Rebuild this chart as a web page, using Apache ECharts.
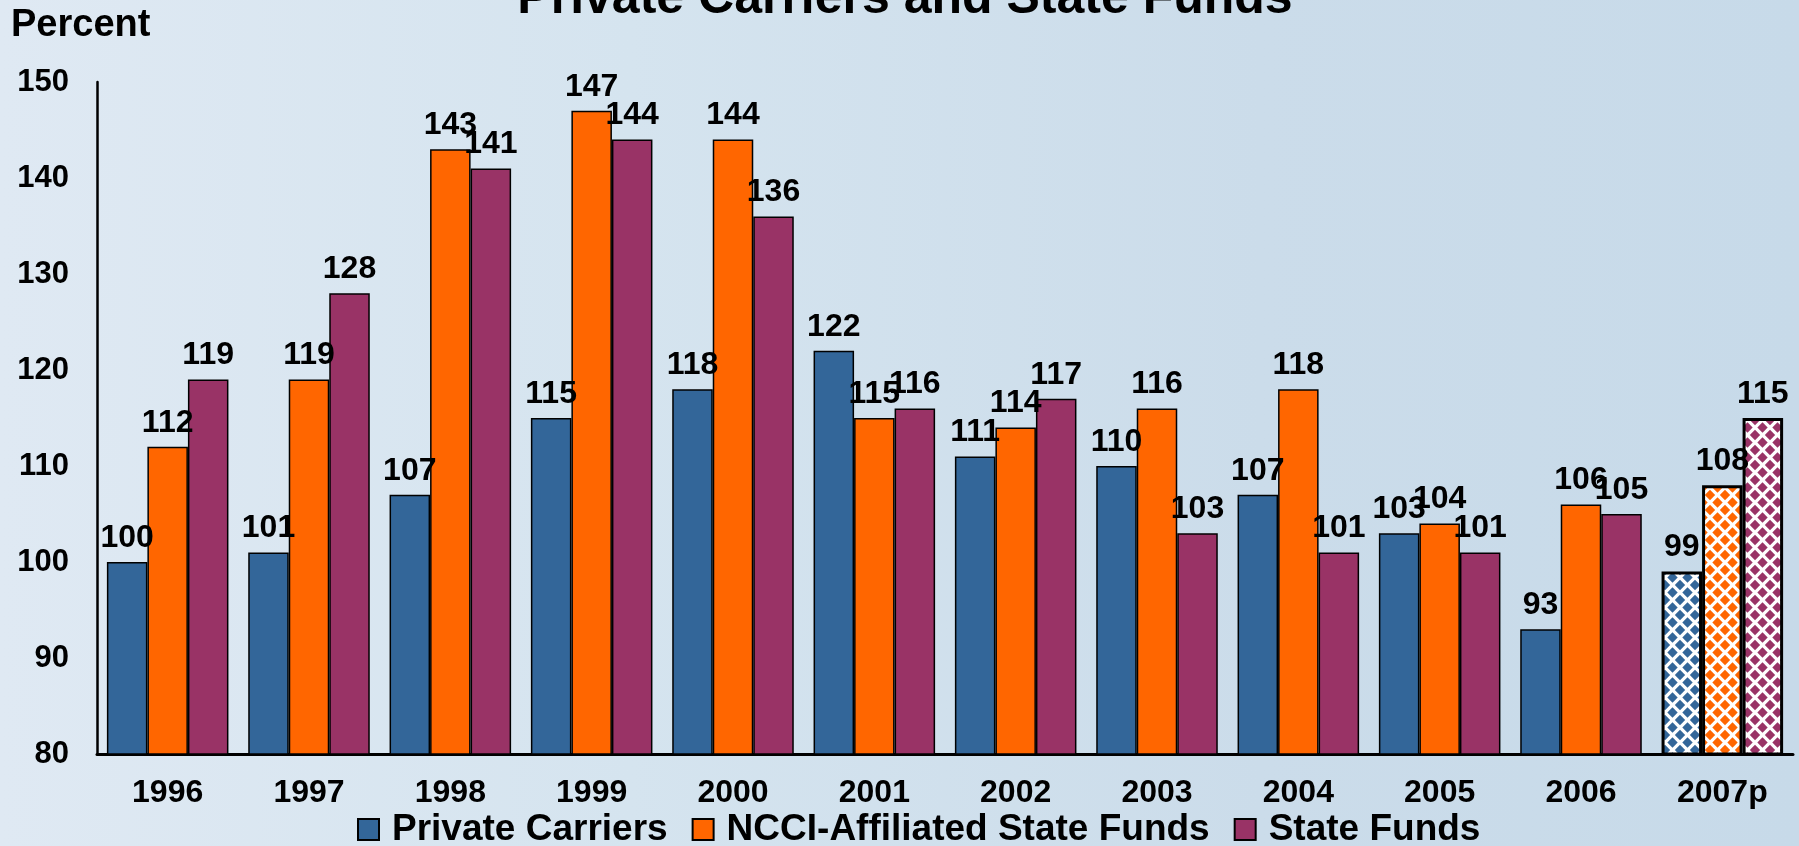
<!DOCTYPE html>
<html>
<head>
<meta charset="utf-8">
<title>Private Carriers and State Funds</title>
<script src="https://cdn.jsdelivr.net/npm/echarts@6/dist/echarts.min.js"></script>
<style>
  html, body { margin: 0; padding: 0; }
  #chart {
    width: 1799px; height: 846px;
    background: linear-gradient(90deg, #dfe9f3 0%, #d5e4ef 35%, #cbdcea 70%, #c7dae9 100%);
  }
</style>
</head>
<body>
<div id="chart"></div>
<script>
// Combined ratio by year, in percent
const years = ['1996', '1997', '1998', '1999', '2000', '2001', '2002', '2003', '2004', '2005', '2006', '2007p'];
const privateCarriers = [100, 101, 107, 115, 118, 122, 111, 110, 107, 103, 93, 99];
const ncciStateFunds = [112, 119, 143, 147, 144, 115, 114, 116, 118, 104, 106, 108];
const stateFunds = [119, 128, 141, 144, 136, 116, 117, 103, 101, 101, 105, 115];
const yTicks = { min: 80, max: 150, step: 10 };
const seriesNames = ['Private Carriers', 'NCCI-Affiliated State Funds', 'State Funds'];
const projectedYear = '2007p';

const colors = ['#336699', '#ff6600', '#993366'];
const FONT = '"Liberation Sans", Arial, sans-serif';

// Diamond dot fill used for the projected year
function diamondPattern(color) {
  const c = document.createElement('canvas');
  const s = 15;
  c.width = s; c.height = s;
  const g = c.getContext('2d');
  g.fillStyle = '#ffffff';
  g.fillRect(0, 0, s, s);
  g.fillStyle = color;
  const d = 5.2;
  const centers = [[s / 2, s / 2], [0, 0], [s, 0], [0, s], [s, s]];
  centers.forEach(([cx, cy]) => {
    g.beginPath();
    g.moveTo(cx, cy - d);
    g.lineTo(cx + d, cy);
    g.lineTo(cx, cy + d);
    g.lineTo(cx - d, cy);
    g.closePath();
    g.fill();
  });
  return { image: c, repeat: 'repeat' };
}

function buildData(values, color) {
  return values.map((v, i) => {
    if (years[i] === projectedYear) {
      return {
        value: v,
        itemStyle: { color: diamondPattern(color), borderColor: '#000', borderWidth: 3 }
      };
    }
    return v;
  });
}

const seriesValues = [privateCarriers, ncciStateFunds, stateFunds];

const chart = echarts.init(document.getElementById('chart'), null, { renderer: 'canvas' });

chart.setOption({
  backgroundColor: 'transparent',
  animation: false,
  textStyle: { fontFamily: FONT },
  graphic: [
    {
      type: 'text',
      z: 10,
      style: {
        text: 'Private Carriers and State Funds',
        x: 905, y: 24,
        textAlign: 'center',
        textVerticalAlign: 'bottom',
        font: 'bold 50px ' + FONT,
        fill: '#000'
      }
    },
    {
      type: 'text',
      style: {
        text: 'Percent',
        x: 11, y: 26,
        textAlign: 'left',
        textVerticalAlign: 'middle',
        font: 'bold 38px ' + FONT,
        fill: '#000'
      }
    }
  ],
  legend: {
    data: seriesNames,
    left: 352,
    top: 806,
    icon: 'rect',
    itemWidth: 21,
    itemHeight: 21,
    itemGap: 24,
    textStyle: { fontFamily: FONT, fontWeight: 'bold', fontSize: 37, color: '#000', padding: [0, 0, 0, 8] }
  },
  grid: { left: 97, right: 6, top: 82, bottom: 92, containLabel: false },
  xAxis: {
    type: 'category',
    data: years,
    axisLine: { lineStyle: { color: '#000', width: 3 } },
    axisTick: { show: false },
    axisLabel: { color: '#000', fontWeight: 'bold', fontSize: 32, margin: 23, fontFamily: FONT }
  },
  yAxis: {
    type: 'value',
    min: yTicks.min,
    max: yTicks.max,
    interval: yTicks.step,
    axisLine: { show: true, lineStyle: { color: '#000', width: 2.5 } },
    axisTick: { show: false },
    splitLine: { show: false },
    axisLabel: { color: '#000', fontWeight: 'bold', fontSize: 31, margin: 28, fontFamily: FONT, padding: [6, 0, 0, 0] }
  },
  series: seriesValues.map((vals, k) => ({
    name: seriesNames[k],
    type: 'bar',
    data: buildData(vals, colors[k]),
    barGap: '0%',
    barCategoryGap: '14%',
    itemStyle: { color: colors[k], borderColor: '#000', borderWidth: 1.5 },
    label: {
      show: true,
      position: 'top',
      distance: 8,
      color: '#000',
      fontWeight: 'bold',
      fontSize: 32,
      fontFamily: FONT
    }
  }))
});
</script>
</body>
</html>
